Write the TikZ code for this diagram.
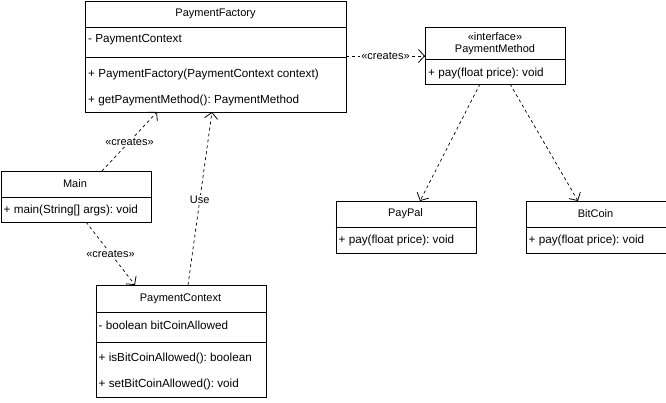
\documentclass[tikz,border=0pt]{standalone}
\usepackage{fontspec}
\setmainfont{Liberation Sans}
\usetikzlibrary{arrows.meta}
\tikzset{
  box/.style={draw, line width=1pt, inner sep=0pt, anchor=north west},
  ttl/.style={font=\fontsize{11}{13}\selectfont, inner sep=0pt, anchor=center},
  mem/.style={font=\fontsize{11.7}{13}\selectfont, inner sep=0pt, anchor=west},
  sep/.style={line width=1pt},
  dep/.style={draw, line width=0.7pt, dash pattern=on 3pt off 3pt,
    -{Straight Barb[length=6pt,width=13pt,line width=0.8pt]}},
  lbl/.style={font=\fontsize{11}{13}\selectfont, fill=white, inner sep=1pt}
}
\begin{document}
\frenchspacing
\begin{tikzpicture}[x=1pt,y=-1pt]
\useasboundingbox (0,0) rectangle (666,402);
% PaymentFactory
\node[box, minimum width=261pt, minimum height=111.5pt] (pf) at (85,0.5) {};
\node[ttl] (pft) at (215.5,14) {PaymentFactory};
\draw[sep] (85,27) -- (346,27);
\node[mem] (pfa) at (88,40) {- PaymentContext};
\draw[sep] (85,57) -- (346,57);
\node[mem] (pfm1) at (88,74) {+ PaymentFactory(PaymentContext context)};
\node[mem] (pfm2) at (88,100) {+ getPaymentMethod(): PaymentMethod};
% PaymentMethod
\node[box, minimum width=140pt, minimum height=57pt] (pm) at (425,27) {};
\node[ttl] (pmt1) at (495,37) {«interface»};
\node[ttl] (pmt2) at (495,50) {PaymentMethod};
\draw[sep] (425,59) -- (565,59);
\node[mem] (pmm) at (428,73) {+ pay(float price): void};
% Main
\node[box, minimum width=150pt, minimum height=51pt] (mn) at (0.5,171) {};
\node[ttl] (mnt) at (75,184) {Main};
\draw[sep] (0.5,197) -- (150.5,197);
\node[mem] (mnm) at (3.5,210) {+ main(String[] args): void};
% PaymentContext
\node[box, minimum width=170pt, minimum height=112pt] (pc) at (95.5,285) {};
\node[ttl] (pct) at (180.5,299) {PaymentContext};
\draw[sep] (95.5,312) -- (265.5,312);
\node[mem] (pca) at (98.5,325) {- boolean bitCoinAllowed};
\draw[sep] (95.5,342) -- (265.5,342);
\node[mem] (pcm1) at (98.5,358) {+ isBitCoinAllowed(): boolean};
\node[mem] (pcm2) at (98.5,384) {+ setBitCoinAllowed(): void};
% PayPal
\node[box, minimum width=140pt, minimum height=52pt] (pp) at (335.5,201) {};
\node[ttl] (ppt) at (405.5,214) {PayPal};
\draw[sep] (335.5,227) -- (475.5,227);
\node[mem] (ppm) at (338.5,240) {+ pay(float price): void};
% BitCoin
\node[box, minimum width=140pt, minimum height=52pt] (bc) at (525.5,201) {};
\node[ttl] (bct) at (595.5,214) {BitCoin};
\draw[sep] (525.5,227) -- (665.5,227);
\node[mem] (bcm) at (528.5,240) {+ pay(float price): void};
% connector end points
\coordinate (pfR) at (346,56);
\coordinate (pmL) at (425,56);
\coordinate (mnT) at (102,171);
\coordinate (pfB1) at (157,112);
\coordinate (mnB) at (86,222);
\coordinate (pcT1) at (135,285);
\coordinate (pcT2) at (188,285);
\coordinate (pfB2) at (212,112);
\coordinate (pmB1) at (480,84);
\coordinate (ppT) at (420,201);
\coordinate (pmB2) at (510,84);
\coordinate (bcT) at (578,201);
% connectors
\draw[dep] (pfR) -- node[lbl] (l1) {«creates»} (pmL);
\draw[dep] (mnT) -- node[lbl] (l2) {«creates»} (pfB1);
\draw[dep] (mnB) -- node[lbl] (l3) {«creates»} (pcT1);
\draw[dep] (pcT2) -- node[lbl, pos=0.49] (l4) {Use} (pfB2);
\draw[dep] (pmB1) -- (ppT);
\draw[dep] (pmB2) -- (bcT);
\end{tikzpicture}
\end{document}
